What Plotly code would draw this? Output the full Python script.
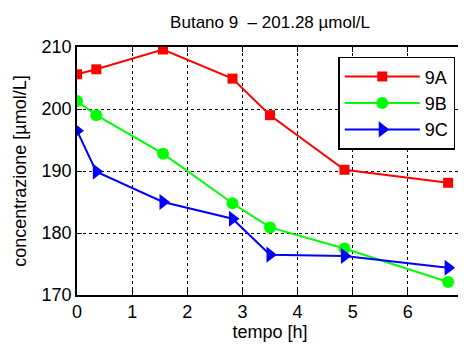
import plotly.graph_objects as go

tempo = [0, 0.35, 1.56, 2.82, 3.5, 4.85, 6.73]
s9A = [205.6, 206.4, 209.6, 204.9, 199.0, 190.2, 188.1]
s9B = [201.3, 199.0, 192.8, 184.8, 180.9, 177.5, 172.1]
s9C = [196.5, 189.9, 185.0, 182.3, 176.5, 176.3, 174.4]

font = "Liberation Sans, Arial, Helvetica, sans-serif"
fs = 18

fig = go.Figure()
fig.add_trace(go.Scatter(x=tempo, y=s9A, name="9A", mode="lines+markers",
                         line=dict(color="#ff0000", width=2),
                         marker=dict(symbol="square", size=10, color="#ff0000")))
fig.add_trace(go.Scatter(x=tempo, y=s9B, name="9B", mode="lines+markers",
                         line=dict(color="#00ff00", width=2),
                         marker=dict(symbol="circle", size=12, color="#00ff00")))
fig.add_trace(go.Scatter(x=tempo, y=s9C, name="9C", mode="lines+markers",
                         line=dict(color="#0000ff", width=2),
                         marker=dict(symbol="triangle-right", size=14, color="#0000ff")))

axis_common = dict(showline=True, linecolor="black", linewidth=1.5, mirror="ticks",
                   ticks="inside", ticklen=5, tickcolor="black", automargin=False,
                   ticklabeloverflow="allow",
                   showgrid=True, gridcolor="black", gridwidth=1, griddash="dot",
                   zeroline=False, tickfont=dict(family=font, size=fs, color="black"))

# page body has an 8px margin, so the figure is sized/offset to compensate
fig.update_layout(
    width=458, height=342,
    margin=dict(l=69, r=3, t=39, b=55),
    paper_bgcolor="white", plot_bgcolor="white",
    font=dict(family=font, size=fs, color="black"),
    title=dict(text="Butano 9\u00a0\u00a0\u2013 201.28 \u00b5mol/L", x=0.5, xref="paper",
               y=0.958, yref="container", xanchor="center", yanchor="middle",
               font=dict(family=font, size=17, color="black"), automargin=False),
    xaxis=dict(range=[0, 7], dtick=1, title=dict(text="tempo [h]", standoff=4,
               font=dict(family=font, size=fs)), **axis_common),
    yaxis=dict(range=[170, 210], dtick=10, title=dict(text="concentrazione [\u00b5mol/L]",
               standoff=10, font=dict(family=font, size=fs)), **axis_common),
    legend=dict(x=0.98, y=0.96, xanchor="right", yanchor="top",
                bgcolor="white", bordercolor="black", borderwidth=1.5,
                font=dict(family=font, size=fs), itemwidth=75,
                tracegroupgap=0),
    showlegend=True,
)

fig.write_html("out.html")
